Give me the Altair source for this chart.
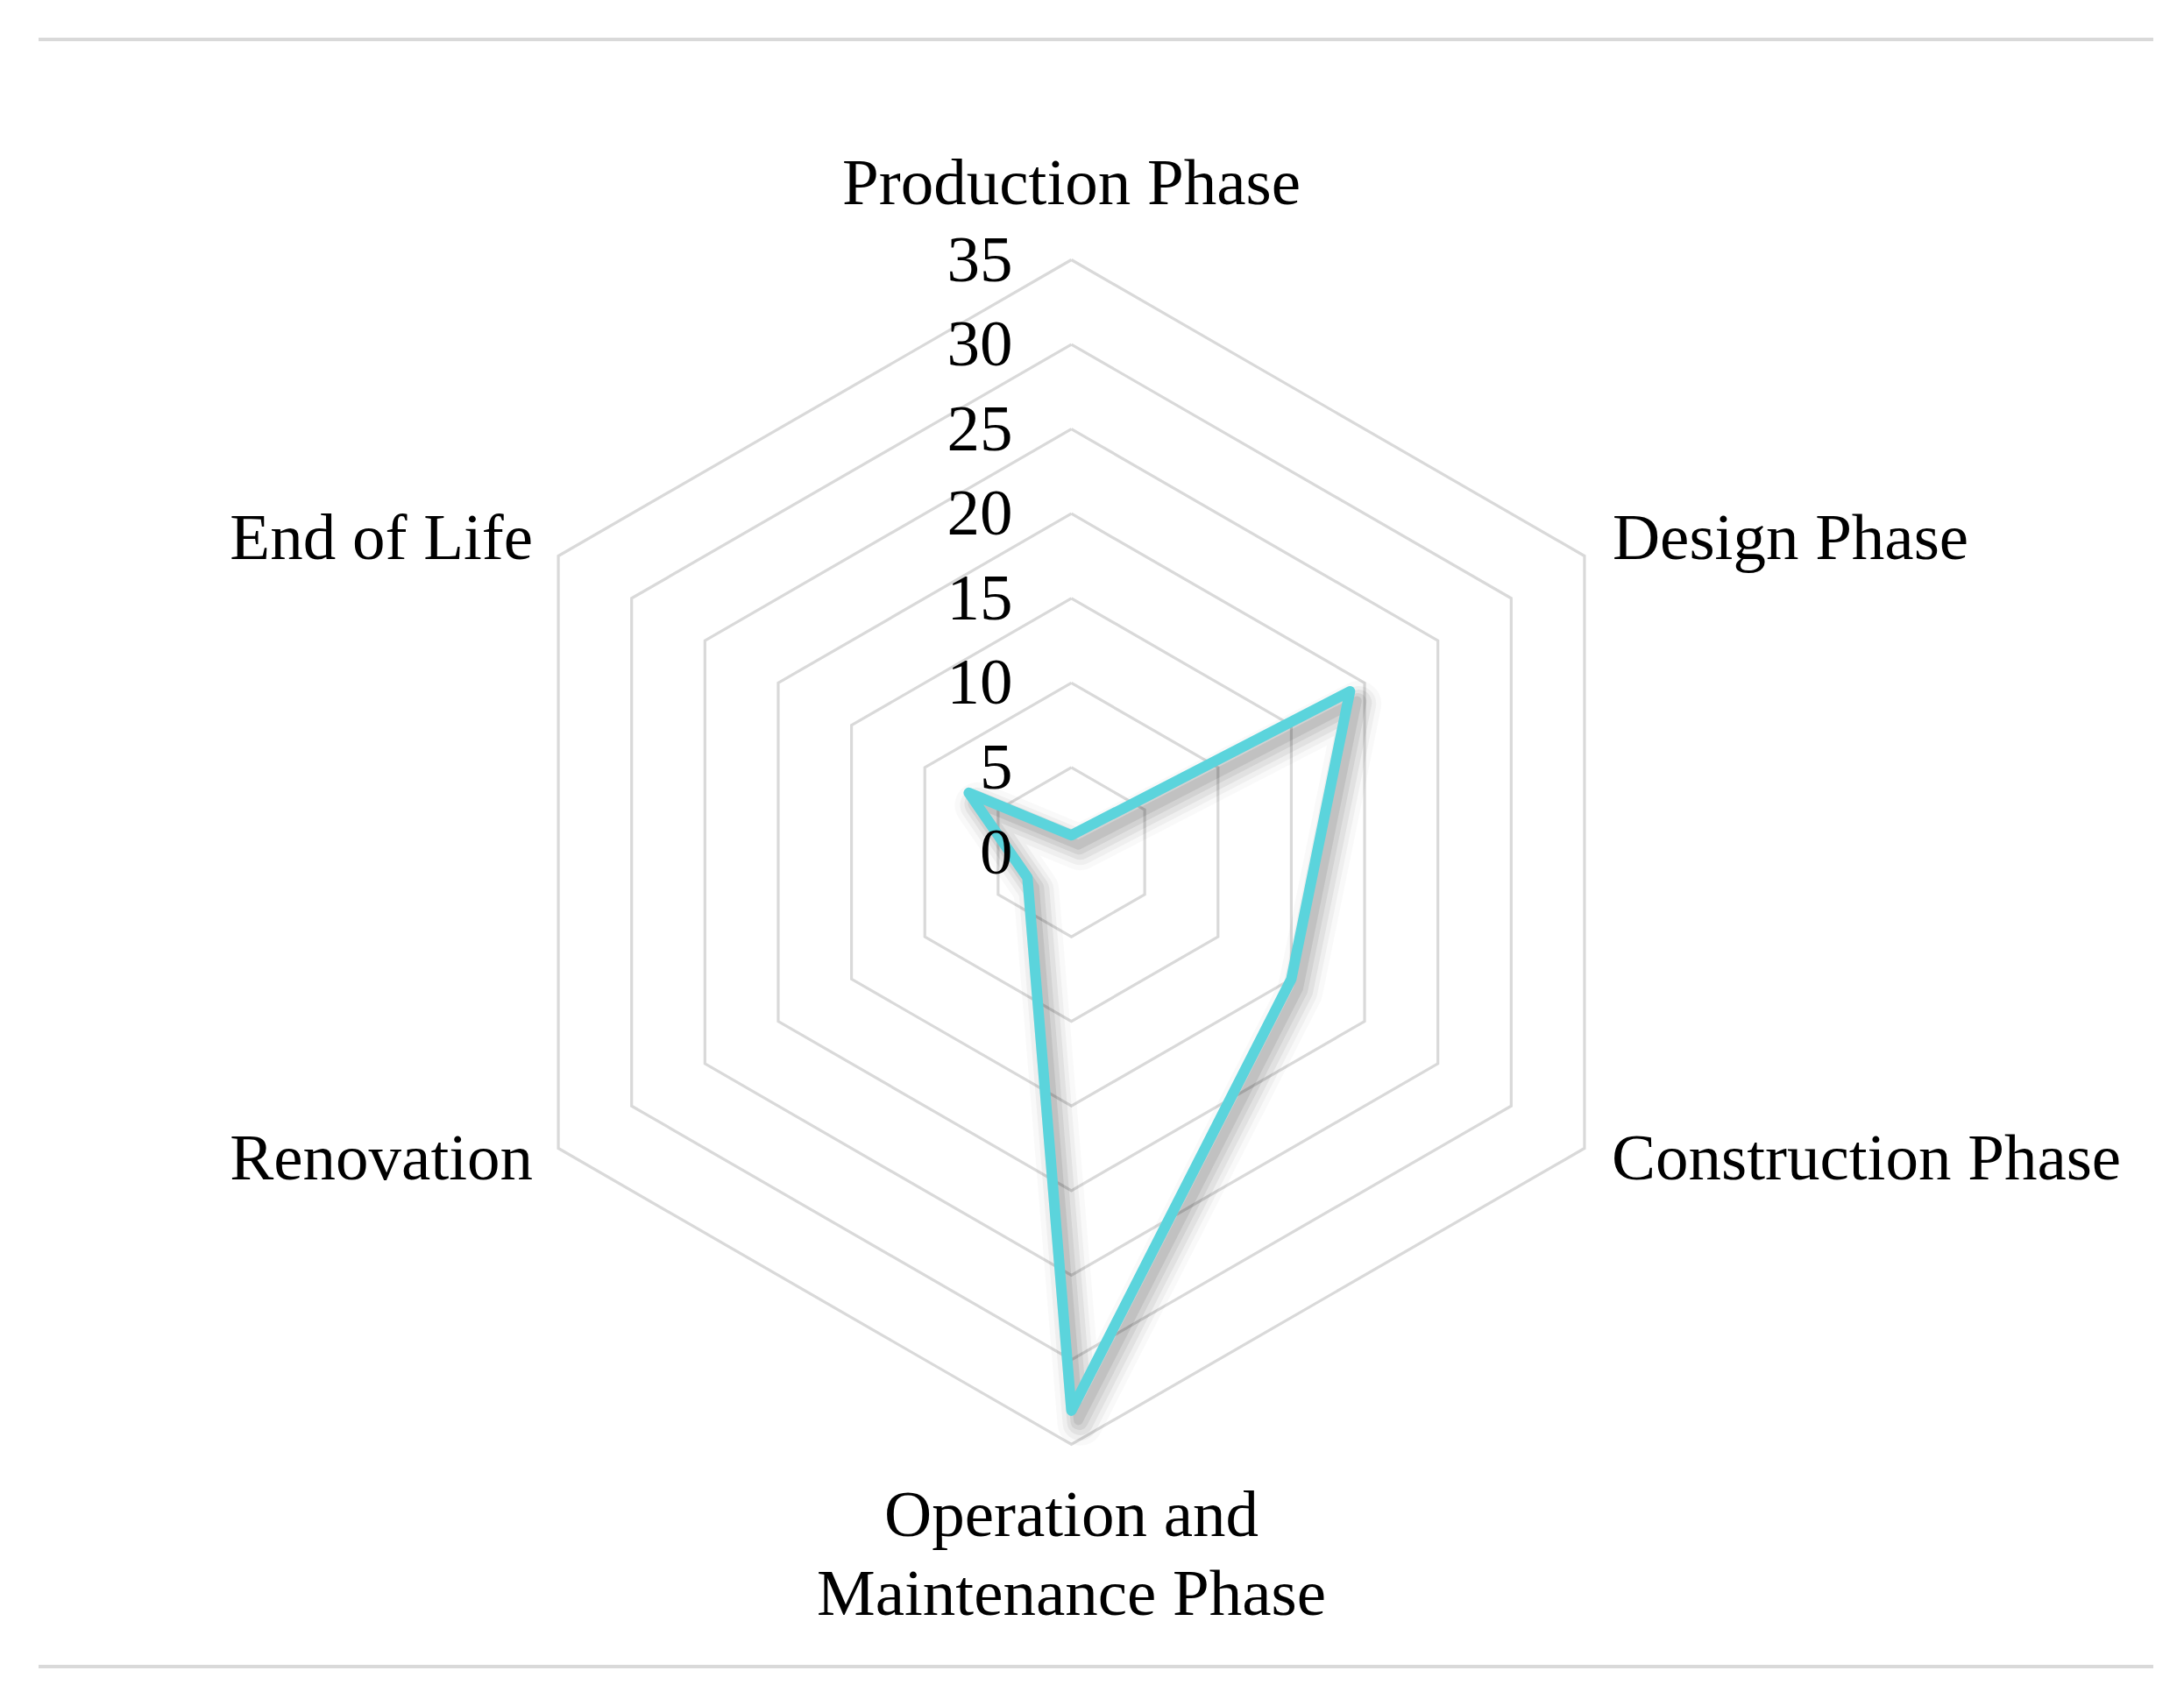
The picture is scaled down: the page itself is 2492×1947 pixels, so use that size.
import altair as alt
import pandas as pd

# ---- data ----
categories = ["Production Phase", "Design Phase", "Construction Phase",
              "Operation and\nMaintenance Phase", "Renovation", "End of Life"]
values = [1, 19, 15, 33, 3, 7]
tick_values = [0, 5, 10, 15, 20, 25, 30, 35]

# ---- layout constants ----
W, H = 2470, 1925
R_MAX = 35
CX, CY = 1214.5, 964.5          # centre of the radar inside the plot area
R_PX = 676.0                    # pixel radius of the outer ring
U = R_PX / R_MAX
XDOM = [-CX / U, (W - CX) / U]
YDOM = [-(H - CY) / U, CY / U]
FONT = "Liberation Serif"
FS = 75
GRID = "#d9d9d9"
LINE = "#5bd4dc"

n = len(categories)
series = pd.DataFrame({
    "i": list(range(n)) + [n],
    "v": values + [values[0]],
})
grid = pd.DataFrame(
    [{"level": lv, "i": i} for lv in tick_values[1:] for i in range(n + 1)]
)
ticks = pd.DataFrame({"t": tick_values, "label": [str(t) for t in tick_values]})
labels = pd.DataFrame({"i": list(range(n)), "cat": categories, "r": [R_MAX] * n})

ang = "PI/2 - datum.i*PI/3"
xs = alt.Scale(domain=XDOM, nice=False, zero=False)
ys = alt.Scale(domain=YDOM, nice=False, zero=False)


def xy(rfield):
    return dict(
        x=alt.X("px:Q", scale=xs, axis=None),
        y=alt.Y("py:Q", scale=ys, axis=None),
    ), {"px": f"datum.{rfield}*cos({ang})", "py": f"datum.{rfield}*sin({ang})"}


enc, calc = xy("level")
grid_layer = alt.Chart(grid).transform_calculate(**calc).mark_line(
    color=GRID, strokeWidth=3.2
).encode(detail="level:N", order="i:Q", **enc)

enc, calc = xy("v")
shadows = []
for w, op, ox, oy in [(52, 0.025, 10, 14), (40, 0.04, 10, 14), (30, 0.055, 10, 13),
                      (20, 0.065, 9, 12), (11, 0.08, 8, 11)]:
    shadows.append(
        alt.Chart(series).transform_calculate(**calc).mark_line(
            color="#000", strokeWidth=w, opacity=op, xOffset=ox, yOffset=oy,
            strokeJoin="round", strokeCap="round"
        ).encode(order="i:Q", **enc)
    )
line_layer = alt.Chart(series).transform_calculate(**calc).mark_line(
    color=LINE, strokeWidth=12, strokeJoin="round", strokeCap="round"
).encode(order="i:Q", **enc)

tick_layer = alt.Chart(ticks).mark_text(
    font=FONT, fontSize=FS, align="right", baseline="alphabetic",
    dx=-67, dy=24, color="#000"
).encode(
    x=alt.X("zero:Q", scale=xs, axis=None),
    y=alt.Y("t:Q", scale=ys, axis=None),
    text="label:N",
).transform_calculate(zero="0")

# per-label text placement (align, dx, dy) relative to the outer vertex
label_style = [
    ("center", 0, -64),
    ("left", 32, 3),
    ("left", 31, 35),
    ("center", 0, 104),
    ("right", -29, 35),
    ("right", -29, 3),
]
enc, calc = xy("r")
label_layers = []
for idx, (al, dx, dy) in enumerate(label_style):
    label_layers.append(
        alt.Chart(labels).transform_filter(f"datum.i == {idx}")
        .transform_calculate(**calc)
        .mark_text(font=FONT, fontSize=FS, align=al, baseline="alphabetic",
                   dx=dx, dy=dy, lineBreak="\n", lineHeight=90, color="#000")
        .encode(text="cat:N", **enc)
    )

top_rule = alt.Chart(ticks).mark_rule(color=GRID, strokeWidth=4).encode(
    x=alt.value(36), x2=alt.value(2449), y=alt.value(37))
bottom_rule = alt.Chart(ticks).mark_rule(color=GRID, strokeWidth=4).encode(
    x=alt.value(36), x2=alt.value(2449), y=alt.value(1894))

chart = alt.layer(
    top_rule, bottom_rule, grid_layer, *shadows, line_layer, tick_layer, *label_layers
).properties(width=W, height=H, padding=0).configure_view(stroke=None)

chart.save("out.html", embed_options={"renderer": "svg", "actions": False})
